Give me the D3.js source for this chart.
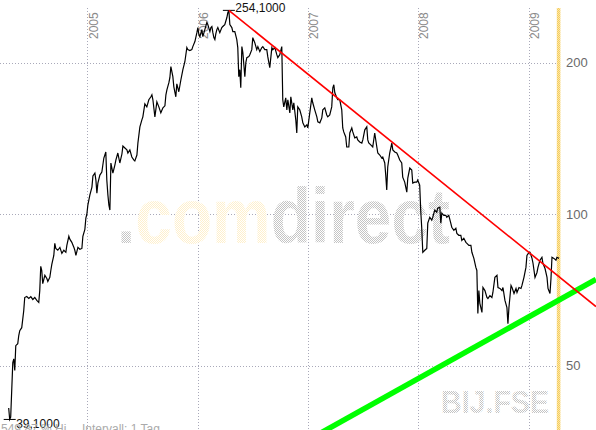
<!DOCTYPE html>
<html><head><meta charset="utf-8">
<script src="https://cdn.jsdelivr.net/npm/d3@7"></script>
<style>html,body{margin:0;padding:0;background:#fff;overflow:hidden}svg{display:block}</style>
</head><body><svg id="c" width="596" height="430"></svg>
<script>
// ---- data (dates as decimal years, prices in EUR) ----
const dates = [
2004.289,2004.298,2004.307,2004.326,2004.335,2004.344,2004.353,2004.371,2004.380,2004.389,2004.407,2004.425,2004.434,2004.452,2004.471,2004.489,2004.507,2004.525,2004.543,2004.561,
2004.570,2004.579,2004.588,2004.597,2004.616,2004.634,2004.643,2004.661,2004.670,2004.679,2004.697,2004.706,2004.715,2004.733,2004.752,2004.770,2004.788,2004.806,2004.815,2004.833,
2004.842,2004.860,2004.879,2004.887,2004.897,2004.906,2004.915,2004.933,2004.951,2004.960,2004.978,2004.987,2004.996,2005.005,2005.014,2005.023,2005.042,2005.051,2005.069,2005.078,
2005.087,2005.096,2005.114,2005.132,2005.150,2005.168,2005.177,2005.187,2005.196,2005.205,2005.214,2005.232,2005.250,2005.259,2005.277,2005.295,2005.314,2005.323,2005.341,2005.359,
2005.368,2005.386,2005.404,2005.423,2005.431,2005.450,2005.459,2005.477,2005.495,2005.504,2005.522,2005.540,2005.558,2005.577,2005.586,2005.595,2005.613,2005.631,2005.649,2005.667,
2005.686,2005.704,2005.713,2005.722,2005.740,2005.749,2005.758,2005.776,2005.785,2005.803,2005.812,2005.830,2005.849,2005.867,2005.885,2005.903,2005.912,2005.930,2005.948,2005.957,
2005.976,2005.994,2006.003,2006.012,2006.021,2006.039,2006.048,2006.066,2006.084,2006.093,2006.112,2006.121,2006.130,2006.139,2006.148,2006.157,2006.166,2006.175,2006.184,2006.202,
2006.220,2006.229,2006.247,2006.266,2006.275,2006.284,
2006.293,2006.311,2006.320,2006.338,2006.356,2006.365,2006.374,2006.383,2006.392,2006.402,2006.411,2006.420,2006.429,2006.438,2006.447,2006.465,2006.474,2006.492,2006.501,2006.519,
2006.537,2006.547,2006.565,2006.583,2006.592,2006.610,2006.628,2006.637,2006.655,2006.674,2006.683,2006.701,2006.719,2006.728,2006.746,2006.764,2006.773,2006.782,2006.800,2006.810,
2006.819,2006.837,2006.846,2006.864,2006.873,2006.891,2006.900,2006.909,2006.927,2006.945,2006.955,2006.973,2006.991,2007.000,2007.018,2007.036,2007.045,2007.063,2007.082,2007.091,
2007.109,2007.127,2007.136,2007.154,2007.172,2007.181,2007.199,2007.217,2007.227,2007.236,2007.245,2007.263,2007.272,2007.290,2007.308,2007.317,2007.326,2007.344,2007.353,2007.372,
2007.381,2007.399,2007.408,2007.426,2007.444,2007.453,2007.471,2007.490,2007.499,2007.517,2007.535,2007.544,2007.553,2007.571,2007.589,2007.607,2007.626,2007.635,2007.653,2007.671,
2007.680,2007.698,2007.707,2007.716,2007.725,2007.743,2007.762,2007.771,2007.789,2007.807,2007.816,2007.834,2007.852,2007.861,2007.879,2007.898,2007.907,2007.925,2007.943,2007.952,
2007.970,2007.988,2007.997,2008.015,2008.024,2008.033,2008.043,2008.061,2008.079,2008.088,2008.106,2008.124,2008.133,2008.151,2008.169,2008.178,2008.197,2008.206,2008.215,2008.233,
2008.251,2008.260,2008.278,2008.296,2008.305,2008.324,2008.342,2008.351,2008.369,2008.387,2008.396,2008.414,2008.433,2008.442,2008.460,2008.478,2008.487,2008.505,2008.523,2008.532,
2008.541,2008.550,2008.559,2008.578,2008.587,2008.605,2008.623,2008.632,2008.650,2008.668,2008.677,2008.695,2008.714,2008.723,2008.741,2008.759,2008.768,2008.786,2008.804,2008.813,
2008.822,2008.841,2008.850,2008.868,2008.886,2008.895,2008.913,2008.931,2008.940,2008.958,2008.976,2008.985,2009.004,2009.013,2009.031,2009.040,2009.058,2009.076,2009.085,2009.103,
2009.121,2009.130,2009.149,2009.167,2009.176,2009.194,2009.203,2009.212,2009.230,2009.248,2009.257,2009.276
];
const prices = [
41.2,39.1,39.5,50.7,51.6,48.9,54.8,55.3,57.4,58.7,59.5,64.3,68.3,68.6,68.0,68.6,67.7,68.3,67.4,66.8,
70.5,78.8,77.3,72.8,75.6,74.5,73.5,74.9,77.3,79.5,82.8,87.5,85.5,84.8,85.9,83.6,84.8,84.0,86.7,90.4,
89.2,87.9,85.9,84.8,82.8,84.4,85.9,85.2,85.5,90.4,93.3,98.2,100.0,104.2,106.6,109.1,113.2,119.1,120.7,116.9,
110.1,115.3,119.6,121.3,129.3,132.9,116.9,109.1,104.2,101.9,126.4,120.7,125.2,128.1,132.3,126.4,131.7,136.6,135.4,134.2,
132.3,134.2,129.9,128.1,127.6,131.1,138.5,149.1,154.0,156.1,165.7,163.4,168.8,171.1,172.7,168.8,156.1,167.2,163.4,159.0,
162.7,164.2,172.7,176.7,182.5,186.7,196.4,187.6,179.1,171.1,181.6,175.1,185.0,193.7,200.9,214.3,212.3,211.4,212.3,215.3,
220.3,229.5,234.9,227.4,225.4,232.7,225.4,232.7,240.3,238.1,230.6,234.9,236.0,229.5,224.3,222.3,228.5,232.7,234.9,229.5,
234.9,236.0,238.1,245.9,251.6,254.1,
238.1,234.9,230.6,230.6,222.3,214.3,187.6,193.7,178.3,215.3,209.4,198.2,187.6,200.0,204.7,205.6,207.5,212.3,224.3,219.2,
212.3,215.3,210.4,214.3,215.3,212.3,212.3,205.6,195.5,214.3,212.3,214.3,207.5,204.7,207.5,215.3,168.8,163.4,170.3,161.2,
168.8,159.0,171.1,161.2,166.5,154.0,145.0,163.4,161.2,156.1,151.9,149.1,150.5,148.4,159.0,170.3,166.5,161.2,156.1,152.6,
151.9,155.4,161.2,162.7,157.5,156.1,157.5,163.4,178.3,180.8,174.3,170.3,168.8,168.8,161.2,148.4,145.7,142.4,136.0,136.0,
145.0,148.4,145.7,141.8,142.4,140.5,139.2,138.5,140.5,147.1,149.1,140.5,138.5,137.3,136.0,145.0,136.0,132.3,131.1,129.3,
129.9,126.4,119.6,111.7,124.1,132.3,138.5,134.2,132.9,132.3,131.1,128.1,126.4,118.5,115.8,110.6,118.0,123.5,122.4,115.3,
115.8,115.8,116.9,114.2,101.9,94.2,84.0,84.8,85.5,96.0,98.6,97.3,98.6,101.9,100.9,102.8,103.3,96.0,100.5,99.5,
99.5,98.6,99.5,96.0,94.2,92.9,93.8,91.6,90.8,90.8,88.7,89.6,87.9,87.5,86.7,86.7,84.0,81.7,78.4,77.3,
63.5,70.5,66.5,63.8,71.5,70.5,68.3,68.0,68.9,68.3,69.9,74.9,75.6,71.5,71.2,70.5,71.5,67.4,65.2,60.6,
65.2,72.2,71.5,69.6,71.2,69.9,71.5,71.2,72.2,74.9,78.4,82.8,84.0,84.0,81.7,79.9,74.9,76.6,78.4,81.0,
82.1,79.9,78.0,74.9,71.2,69.6,74.5,82.1,81.7,81.0,82.1,81.7
];
const yearTicks = [2005, 2006, 2007, 2008, 2009];
const priceTicks = [50, 100, 200];
const highPoint = [2006.284, 254.1];
const lowPoint = [2004.298, 39.1];
const highLabel = "254,1000";
const lowLabel = "39,1000";
const resistanceDates = [2006.284, 2009.611];
const resistanceValues = [254.1, 65.55];
const supportDates = [2007.018, 2009.611];
const supportValues = [35.74, 74.19];
const symbolText = "BIJ.FSE";
const footerTexts = ["549,87 % Hi", "Intervall: 1 Tag"];
const watermarkParts = [".", "com", "direct"];

// ---- helpers ----
function toDate(t) {
  const y = Math.floor(t);
  const a = new Date(y, 0, 1), b = new Date(y + 1, 0, 1);
  return new Date(+a + (t - y) * (b - a));
}
const FONT = "'Liberation Sans', Arial, sans-serif";
const W = 596, H = 430, plotRight = 557;

const svg = d3.select("#c");
const x = d3.scaleTime().domain([new Date(2005,0,1), new Date(2009,0,1)]).range([87.3, 528.6]);
const y = d3.scaleLog().domain([50, 200]).range([365.7, 62.7]);

// patterns (dither like the original)
const defs = svg.append("defs");
function dither(id, c1, c2) {
  const p = defs.append("pattern").attr("id", id).attr("patternUnits", "userSpaceOnUse")
    .attr("width", 2).attr("height", 2);
  p.append("rect").attr("width", 2).attr("height", 2).attr("fill", c2);
  p.append("rect").attr("x", 0).attr("y", 0).attr("width", 1).attr("height", 1).attr("fill", c1);
  p.append("rect").attr("x", 1).attr("y", 1).attr("width", 1).attr("height", 1).attr("fill", c1);
}
dither("dGray", "#c4c4c4", "#ffffff");
dither("dYellow", "#fff0cc", "#ffffff");
dither("dBand", "#f6cd5c", "#fce6a8");

// gridlines
const grid = svg.append("g").attr("stroke", "#a9a9b9").attr("stroke-width", 1).attr("stroke-dasharray", "1,2");
grid.selectAll("line.h").data(priceTicks).join("line").attr("class", "h")
  .attr("x1", 0).attr("x2", plotRight).attr("y1", d => Math.round(y(d)) + 0.5).attr("y2", d => Math.round(y(d)) + 0.5);
grid.selectAll("line.v").data(yearTicks).join("line").attr("class", "v")
  .attr("y1", 8).attr("y2", H)
  .attr("x1", d => Math.round(x(new Date(d,0,1))) + 0.5).attr("x2", d => Math.round(x(new Date(d,0,1))) + 0.5);

// watermark
const wm = svg.append("text").attr("x", 117).attr("y", 243)
  .attr("font-family", FONT).attr("font-weight", "bold").attr("font-size", 78)
  .attr("textLength", 333).attr("lengthAdjust", "spacingAndGlyphs");
wm.selectAll("tspan").data(watermarkParts).join("tspan")
  .attr("fill", (d, i) => i === 1 ? "url(#dYellow)" : "url(#dGray)").text(d => d);

svg.append("text").attr("x", 441).attr("y", 413)
  .attr("font-family", FONT).attr("font-weight", "bold").attr("font-size", 32)
  .attr("textLength", 108).attr("lengthAdjust", "spacingAndGlyphs")
  .attr("fill", "url(#dGray)").text(symbolText);

// year labels
svg.append("g").selectAll("text").data(yearTicks).join("text")
  .attr("transform", d => `translate(${x(new Date(d,0,1)) + 10.3},39) rotate(-90)`)
  .attr("font-family", FONT).attr("font-size", 12).attr("fill", "#8a8a8a").text(d => d);

// right axis
const ax = svg.append("g").attr("transform", `translate(${plotRight},0)`)
  .call(d3.axisRight(y).tickValues(priceTicks).tickSize(0).tickPadding(9).tickFormat(d3.format("d")));
ax.select(".domain").remove();
ax.selectAll("text").attr("font-family", FONT).attr("font-size", 13).attr("fill", "#6a6a6a");

// current-day band
svg.append("rect").attr("x", 556.8).attr("y", 8).attr("width", 3.6).attr("height", H - 8).attr("fill", "url(#dBand)");

// price line
const series = dates.map((d, i) => ({ date: toDate(d), value: prices[i] }));
const line = d3.line().x(d => x(d.date)).y(d => y(d.value));
svg.append("path").datum(series).attr("d", line)
  .attr("fill", "none").attr("stroke", "#000").attr("stroke-width", 1.2).attr("stroke-linejoin", "miter");

// extreme markers
[[highPoint, highLabel, -2], [lowPoint, lowLabel, 4.5]].forEach(([pt, lab, dy]) => {
  const px = x(toDate(pt[0])), py = y(pt[1]);
  svg.append("line").attr("x1", px - 6).attr("x2", px + 6).attr("y1", py).attr("y2", py)
    .attr("stroke", "#000").attr("stroke-width", 1);
  svg.append("text").attr("x", px + 6.5).attr("y", py + dy + 4).attr("font-family", FONT)
    .attr("font-size", 12).attr("fill", "#111").text(lab);
});

// trendlines
function trend(ds, vs, color, w) {
  const pts = ds.map((d, i) => ({ date: toDate(d), value: vs[i] }));
  svg.append("path").datum(pts).attr("d", line).attr("fill", "none")
    .attr("stroke", color).attr("stroke-width", w);
}
trend(supportDates, supportValues, "#00ff00", 5.5);
trend(resistanceDates, resistanceValues, "#ff0000", 1.6);

// footer
svg.append("g").selectAll("text").data(footerTexts).join("text")
  .attr("x", (d, i) => i === 0 ? 1 : 82).attr("y", 433)
  .attr("font-family", FONT).attr("font-size", 12).attr("fill", "#aaaaaa").text(d => d);
</script></body></html>
